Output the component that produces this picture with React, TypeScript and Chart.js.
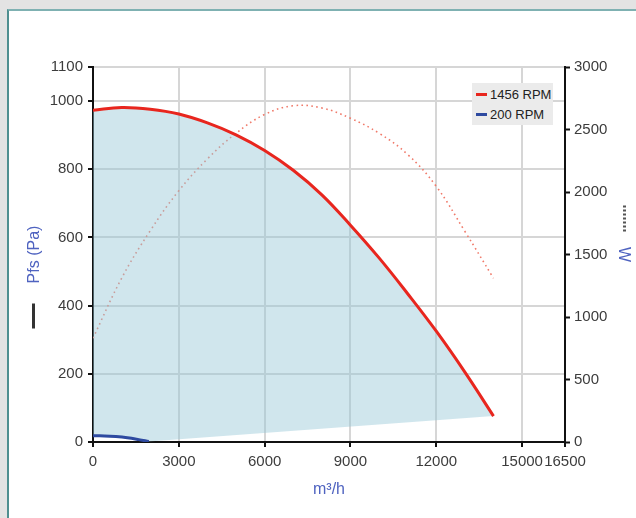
import React, { useEffect, useRef } from "react";
import { Chart, registerables } from "chart.js";

Chart.register(...registerables);

// ---- data ----
const flowPoints = [0, 1000, 2000, 3000, 4000, 5000, 6000, 7000, 8000, 9000, 10000, 11000, 12000, 13000, 14000];
const pressure1456 = [973, 981, 976, 962, 936, 901, 855, 797, 725, 636, 540, 435, 325, 205, 76];
const power1456 = [830, 1310, 1690, 2010, 2265, 2470, 2620, 2690, 2672, 2590, 2470, 2300, 2045, 1685, 1310];
const flow200 = [0, 400, 800, 1200, 1600, 1950];
const pressure200 = [18, 17.9, 16, 12.5, 7, 1.4];

const xTicks = [0, 3000, 6000, 9000, 12000, 15000, 16500];
const yTicks = [0, 200, 400, 600, 800, 1000, 1100];
const y1Ticks = [0, 500, 1000, 1500, 2000, 2500, 3000];

const legendItems = [
  { label: "1456 RPM", color: "#e8261e" },
  { label: "200 RPM", color: "#2e4aa0" },
];

const FONT = "'Liberation Sans', Arial, sans-serif";
const TITLE_COLOR = "#4f63c0";

const pts = (xs: number[], ys: number[]) => xs.map((x, i) => ({ x, y: ys[i] }));

const markPlugin = {
  id: "axisMarks",
  afterDraw(chart: any) {
    const { ctx, chartArea } = chart;
    const cy = (chartArea.top + chartArea.bottom) / 2;
    ctx.save();
    // solid line mark next to left title
    ctx.strokeStyle = "#333";
    ctx.lineWidth = 3;
    ctx.beginPath();
    ctx.moveTo(33.5, cy + 49);
    ctx.lineTo(33.5, cy + 74);
    ctx.stroke();
    // dotted mark next to right title
    ctx.strokeStyle = "#555";
    ctx.setLineDash([2, 2]);
    ctx.beginPath();
    ctx.moveTo(624.5, cy - 49);
    ctx.lineTo(624.5, cy - 23);
    ctx.stroke();
    ctx.restore();
  },
};

export default function App() {
  const ref = useRef<HTMLCanvasElement>(null);

  useEffect(() => {
    const tickFont = { family: FONT, size: 15 };
    const titleFont = { family: FONT, size: 16 };
    const lower = [...pts(flow200, pressure200), { x: flowPoints[flowPoints.length - 1], y: pressure1456[pressure1456.length - 1] }];

    const chart = new Chart(ref.current as HTMLCanvasElement, {
      type: "line",
      data: {
        datasets: [
          {
            label: "200 RPM",
            data: pts(flow200, pressure200),
            borderColor: "#2e4aa0",
            borderWidth: 3,
            pointRadius: 0,
            tension: 0.4,
            fill: false,
            yAxisID: "y",
          },
          {
            label: "1456 RPM",
            data: pts(flowPoints, pressure1456),
            borderColor: "#e8261e",
            borderWidth: 3,
            pointRadius: 0,
            tension: 0.4,
            fill: { target: 3, above: "rgba(150,200,215,0.45)", below: "rgba(150,200,215,0.45)" },
            yAxisID: "y",
          },
          {
            label: "1456 RPM power",
            data: pts(flowPoints, power1456),
            borderColor: "#f07a6a",
            borderWidth: 1.6,
            borderDash: [1.6, 3.4],
            pointRadius: 0,
            tension: 0.4,
            fill: false,
            yAxisID: "y1",
          },
          {
            label: "boundary",
            data: lower,
            borderColor: "rgba(0,0,0,0)",
            borderWidth: 0,
            pointRadius: 0,
            tension: 0,
            fill: false,
            yAxisID: "y",
          },
        ],
      } as any,
      options: {
        animation: false,
        responsive: true,
        maintainAspectRatio: false,
        layout: { padding: { left: 0, right: 0, top: 67, bottom: 0 } },
        plugins: { legend: { display: false }, tooltip: { enabled: false } },
        scales: {
          x: {
            type: "linear",
            position: "bottom",
            min: 0,
            max: 16500,
            afterBuildTicks: (s: any) => {
              s.ticks = xTicks.map((v) => ({ value: v }));
            },
            afterFit: (s: any) => {
              s.height = 76;
            },
            grid: { color: "#d6d6d6", lineWidth: 2, tickColor: "#111", tickWidth: 2, tickLength: 5 },
            border: { color: "#111", width: 2 },
            ticks: { font: tickFont, color: "#3c3c3c", autoSkip: false, maxRotation: 0, padding: 6, callback: (v: any) => String(v) },
            title: { display: true, text: "m³/h", color: TITLE_COLOR, font: titleFont, padding: { top: 0, bottom: 19 } },
          },
          y: {
            type: "linear",
            position: "left",
            min: 0,
            max: 1100,
            afterBuildTicks: (s: any) => {
              s.ticks = yTicks.map((v) => ({ value: v }));
            },
            afterFit: (s: any) => {
              s.width = 93;
            },
            grid: { color: "#d6d6d6", lineWidth: 2, tickColor: "#111", tickWidth: 2, tickLength: 5 },
            border: { color: "#111", width: 2 },
            ticks: { font: tickFont, color: "#3c3c3c", padding: 5, callback: (v: any) => String(v) },
            title: { display: true, text: "Pfs (Pa)", color: TITLE_COLOR, font: titleFont, padding: { top: 25, bottom: 0 } },
          },
          y1: {
            type: "linear",
            position: "right",
            min: 0,
            max: 3000,
            afterBuildTicks: (s: any) => {
              s.ticks = y1Ticks.map((v) => ({ value: v }));
            },
            afterFit: (s: any) => {
              s.width = 71;
            },
            grid: { drawOnChartArea: false, color: "#d6d6d6", tickColor: "#111", tickWidth: 2, tickLength: 5 },
            border: { color: "#111", width: 2 },
            ticks: { font: tickFont, color: "#3c3c3c", padding: 4, callback: (v: any) => String(v) },
            title: { display: true, text: "W", color: TITLE_COLOR, font: titleFont, padding: { top: 3, bottom: 0 } },
          },
        },
      } as any,
      plugins: [markPlugin],
    });
    return () => chart.destroy();
  }, []);

  return (
    <div style={{ position: "absolute", left: 0, top: 0, width: 636, height: 518, background: "#e3e3e3", overflow: "hidden" }}>
      <div
        style={{
          position: "absolute",
          left: 7,
          top: 9,
          width: 700,
          height: 600,
          background: "#fff",
          borderTop: "2px solid #7fb1b2",
          borderLeft: "2px solid #4f8f90",
        }}
      />
      <div style={{ position: "absolute", left: 0, top: 0, width: 636, height: 518 }}>
        <canvas ref={ref} />
      </div>
      <div
        style={{
          position: "absolute",
          left: 472,
          top: 83,
          width: 81,
          height: 42,
          background: "#ebebeb",
          fontFamily: FONT,
          fontSize: 13,
          color: "#222",
        }}
      >
        {legendItems.map((it, i) => (
          <div key={it.label} style={{ position: "absolute", left: 4, top: 3 + i * 20, height: 16, display: "flex", alignItems: "center", whiteSpace: "nowrap" }}>
            <span style={{ display: "inline-block", width: 11, height: 3, background: it.color, marginRight: 3 }} />
            <span>{it.label}</span>
          </div>
        ))}
      </div>
    </div>
  );
}
